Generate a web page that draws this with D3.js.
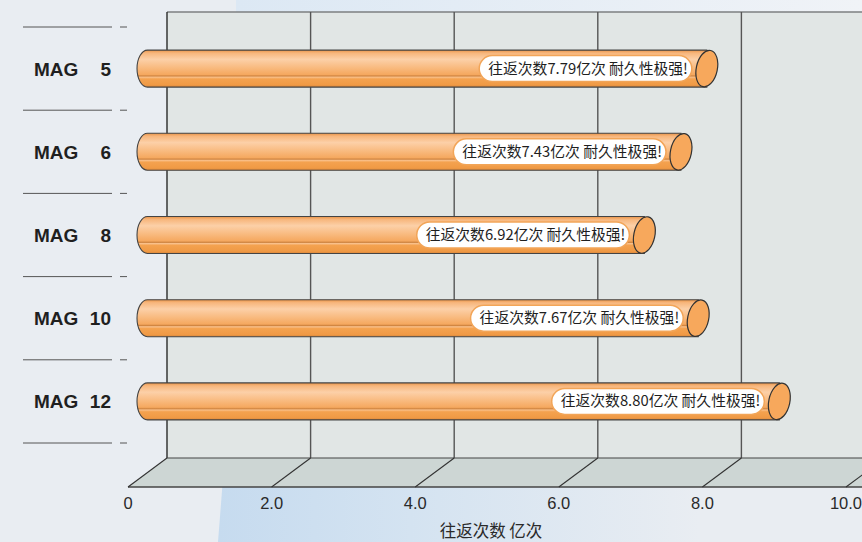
<!DOCTYPE html>
<html>
<head>
<meta charset="utf-8">
<script src="https://cdn.jsdelivr.net/npm/d3@7"></script>
<style>
  html, body { margin: 0; padding: 0; background: #e8ecf1; }
  svg { display: block; }
</style>
</head>
<body>
<svg id="chart"></svg>
<script>
// Chart data
const models = ["5", "6", "8", "10", "12"];
const values = [7.79, 7.43, 6.92, 7.67, 8.80];
const ticks = [0, 2, 4, 6, 8, 10];
const tickLabels = ["0", "2.0", "4.0", "6.0", "8.0", "10.0"];
const axisTitle = "往返次数 亿次";

const width = 862;
const height = 542;

const svg = d3.select("#chart").attr("width", width).attr("height", height);
const defs = svg.append("defs");

// Scales: front edge of floor, back wall, and middle depth (bar axis)
const depthX = 39;
const xFront = d3.scaleLinear().domain([0, 10]).range([128, 846]);
const xBack = d3.scaleLinear().domain([0, 10]).range([128 + depthX, 846 + depthX]);
const xMid = d3.scaleLinear().domain([0, 10]).range([128 + depthX / 2, 846 + depthX / 2]);
const y = d3.scaleBand().domain(models).range([27, 443]);

const wallTop = 12;
const wallBottom = 458;
const floorFront = 487;

// Background with a soft blue photo-like patch
const bgGrad = defs.append("linearGradient").attr("id", "bgBlue").attr("x1", 0).attr("x2", 1);
bgGrad.append("stop").attr("offset", "0%").attr("stop-color", "#c6dbef");
bgGrad.append("stop").attr("offset", "40%").attr("stop-color", "#d4e3f1");
bgGrad.append("stop").attr("offset", "100%").attr("stop-color", "#e9edf2");
const topGrad = defs.append("linearGradient").attr("id", "topBlue").attr("x1", 0).attr("x2", 1);
topGrad.append("stop").attr("offset", "0%").attr("stop-color", "#dce8f4");
topGrad.append("stop").attr("offset", "100%").attr("stop-color", "#f0f3f7");

svg.append("rect").attr("width", width).attr("height", height).attr("fill", "#e9edf2");
svg.append("path")
    .attr("d", "M226,440 L700,440 L700,542 L218,542 Z")
    .attr("fill", "url(#bgBlue)");
svg.append("rect").attr("x", 236).attr("y", 0).attr("width", 626).attr("height", 14).attr("fill", "url(#topBlue)");

// Back wall
svg.append("rect")
    .attr("x", xBack(0)).attr("y", wallTop)
    .attr("width", width - xBack(0) + 10).attr("height", wallBottom - wallTop)
    .attr("fill", "#e1e6e5");
svg.append("line")
    .attr("x1", xBack(0)).attr("x2", width)
    .attr("y1", wallTop).attr("y2", wallTop)
    .attr("stroke", "#7c7f80").attr("stroke-width", 1.5);

// Wall gridlines
svg.append("g").selectAll("line").data(ticks).join("line")
    .attr("x1", (d) => xBack(d)).attr("x2", (d) => xBack(d))
    .attr("y1", wallTop).attr("y2", wallBottom)
    .attr("stroke", (d) => (d === 0 ? "#2a2a2a" : "#555"))
    .attr("stroke-width", 1.4);

// Floor
svg.append("path")
    .attr("d", `M${xFront(0)},${floorFront} L${xBack(0)},${wallBottom} L${xBack(10) + 20},${wallBottom} L${xFront(10) + 20},${floorFront} Z`)
    .attr("fill", "#cdd6d4");
svg.append("line")
    .attr("x1", xBack(0)).attr("x2", width).attr("y1", wallBottom).attr("y2", wallBottom)
    .attr("stroke", "#444").attr("stroke-width", 1.2);
svg.append("line")
    .attr("x1", xFront(0)).attr("x2", width).attr("y1", floorFront).attr("y2", floorFront)
    .attr("stroke", "#444").attr("stroke-width", 1.4);
svg.append("g").selectAll("line").data(ticks).join("line")
    .attr("x1", (d) => xFront(d)).attr("y1", floorFront)
    .attr("x2", (d) => xBack(d)).attr("y2", wallBottom)
    .attr("stroke", "#333").attr("stroke-width", 1.1);

// Tick labels
svg.append("g").selectAll("text").data(ticks).join("text")
    .attr("x", (d) => xFront(d)).attr("y", 509)
    .attr("text-anchor", "middle")
    .attr("font-family", "Liberation Sans, Arial, sans-serif")
    .attr("font-size", 16.5)
    .attr("fill", "#2a2a2a")
    .text((d, i) => tickLabels[i]);

svg.append("text")
    .attr("x", 491).attr("y", 537)
    .attr("text-anchor", "middle")
    .attr("font-family", "Noto Sans CJK SC, sans-serif")
    .attr("font-size", 16.5)
    .attr("fill", "#2a2a2a")
    .text(axisTitle);

// Category separators and labels
const sepEdges = models.map((m) => y(m)).concat([y.range()[1]]);
const seps = svg.append("g");
seps.selectAll("line.long").data(sepEdges).join("line")
    .attr("class", "long")
    .attr("x1", 23).attr("x2", 112).attr("y1", (d) => d).attr("y2", (d) => d)
    .attr("stroke", "#555").attr("stroke-width", 1);
seps.selectAll("line.short").data(sepEdges).join("line")
    .attr("class", "short")
    .attr("x1", 120).attr("x2", 127).attr("y1", (d) => d).attr("y2", (d) => d)
    .attr("stroke", "#555").attr("stroke-width", 1);

const labels = svg.append("g")
    .attr("font-family", "Liberation Sans, Arial, sans-serif")
    .attr("font-weight", "bold")
    .attr("font-size", 19)
    .attr("fill", "#1f1f1f");
labels.selectAll("text.mag").data(models).join("text")
    .attr("class", "mag")
    .attr("x", 34).attr("y", (d) => y(d) + y.bandwidth() / 2 + 7)
    .text("MAG");
labels.selectAll("text.num").data(models).join("text")
    .attr("class", "num")
    .attr("x", 111).attr("y", (d) => y(d) + y.bandwidth() / 2 + 7)
    .attr("text-anchor", "end")
    .text((d) => d);

// Cylinder gradient
const barGrad = defs.append("linearGradient").attr("id", "barGrad").attr("x1", 0).attr("x2", 0).attr("y1", 0).attr("y2", 1);
[
    ["0%", "#e99449"],
    ["8%", "#f7b67c"],
    ["25%", "#fcd0a8"],
    ["45%", "#f9bd84"],
    ["66%", "#f5a85f"],
    ["70%", "#cf8440"],
    ["73%", "#f9c08a"],
    ["78%", "#f4a24f"],
    ["94%", "#f09a45"],
    ["100%", "#d9863a"],
].forEach(([o, c]) => barGrad.append("stop").attr("offset", o).attr("stop-color", c));

const ry = 18.5;
const rx = 10.5;

const bars = svg.append("g").selectAll("g").data(models).join("g");

bars.each(function (m, i) {
    const g = d3.select(this);
    const cy = y(m) + y.bandwidth() / 2;
    const x0 = xMid(0);
    const x1 = xMid(values[i]);

    // Body with left rounded cap
    g.append("path")
        .attr("d", `M${x1},${cy - ry} L${x0},${cy - ry} A${rx},${ry} 0 0 0 ${x0},${cy + ry} L${x1},${cy + ry} Z`)
        .attr("fill", "url(#barGrad)")
        .attr("stroke", "#444")
        .attr("stroke-width", 1.1);

    // Label pill
    const label = `往返次数${values[i].toFixed(2)}亿次 耐久性极强!`;
    const pill = g.append("rect");
    const txt = g.append("text")
        .attr("font-family", "Noto Sans CJK SC, sans-serif")
        .attr("font-size", 14.8)
        .attr("fill", "#1f1f1f")
        .attr("text-anchor", "end")
        .attr("x", x1 - 19)
        .attr("y", cy + 5)
        .text(label);
    const tw = txt.node().getComputedTextLength();
    pill
        .attr("x", x1 - 19 - tw - 9).attr("y", cy - 13)
        .attr("width", tw + 13).attr("height", 26)
        .attr("rx", 13)
        .attr("fill", "#fff")
        .attr("stroke", "#f2a558")
        .attr("stroke-width", 1.5);

    // Right end face
    g.append("ellipse")
        .attr("cx", x1).attr("cy", cy)
        .attr("rx", rx).attr("ry", ry)
        .attr("transform", `rotate(12,${x1},${cy})`)
        .attr("fill", "#f7a85c")
        .attr("stroke", "#333")
        .attr("stroke-width", 1.2);
});
</script>
</body>
</html>
